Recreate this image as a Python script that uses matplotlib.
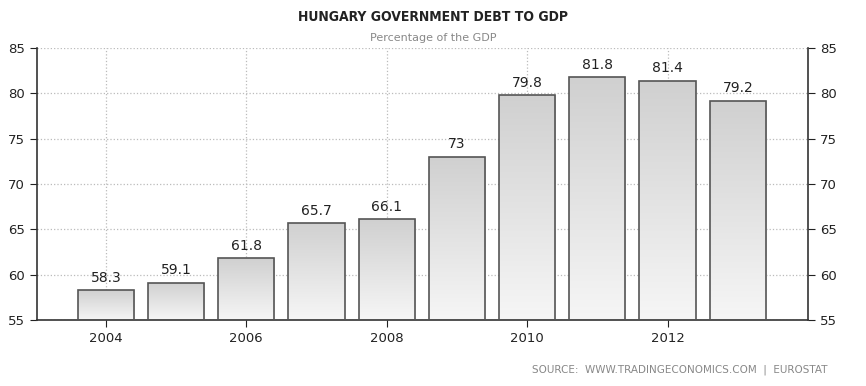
import numpy as np
import matplotlib
matplotlib.use("Agg")
import matplotlib.pyplot as plt

years = [2004, 2005, 2006, 2007, 2008, 2009, 2010, 2011, 2012, 2013]
debt = [58.3, 59.1, 61.8, 65.7, 66.1, 73.0, 79.8, 81.8, 81.4, 79.2]
labels = ["58.3", "59.1", "61.8", "65.7", "66.1", "73", "79.8", "81.8", "81.4", "79.2"]
yticks = [55, 60, 65, 70, 75, 80, 85]
xticks = [2004, 2006, 2008, 2010, 2012]

plt.rcParams["font.family"] = ["DejaVu Sans"]

fig = plt.figure(figsize=(8.66, 3.86), dpi=100)
ax = fig.add_axes([37 / 866, 1 - 320 / 386, 771 / 866, 272 / 386])

ax.set_xlim(2003.02, 2014.0)
ax.set_ylim(55, 85)

grad = np.linspace(0, 1, 256).reshape(-1, 1)
cmap = matplotlib.colors.LinearSegmentedColormap.from_list("g", ["#f6f6f6", "#d0d0d0"])
bars = ax.bar(years, debt, width=0.8, color="none",
              edgecolor="#555555", linewidth=1.2, zorder=3)
for b, v in zip(bars, debt):
    x0 = b.get_x()
    im = ax.imshow(grad, extent=[x0, x0 + b.get_width(), 55, v], aspect="auto",
                   cmap=cmap, origin="lower", zorder=2)
    im.set_clip_path(b)

for x, v, t in zip(years, debt, labels):
    ax.text(x, v + 0.6, t, ha="center", va="bottom", fontsize=10, color="#222222")

ax.set_yticks(yticks)
ax.set_xticks(xticks)
ax.grid(True, color="#bbbbbb", linestyle=":", linewidth=0.9, zorder=0)
ax.set_axisbelow(True)
ax.tick_params(axis="both", labelsize=9.5, colors="#222222", direction="out", length=5)
ax.tick_params(axis="y", right=True, labelright=True)
for s in ["left", "right", "bottom"]:
    ax.spines[s].set_color("#333333")
    ax.spines[s].set_linewidth(1.2)
ax.spines["top"].set_visible(False)

fig.text(0.5, 1 - 17 / 386, "HUNGARY GOVERNMENT DEBT TO GDP", ha="center", va="center",
         fontsize=10, fontweight="bold", color="#222222", fontstretch="condensed")
fig.text(0.5, 1 - 38 / 386, "Percentage of the GDP", ha="center", va="center",
         fontsize=8, color="#888888")
fig.text(828 / 866, 1 - 370 / 386, "SOURCE:  WWW.TRADINGECONOMICS.COM  |  EUROSTAT",
         ha="right", va="center", fontsize=7.5, color="#888888")

fig.savefig("out.png", dpi=100)
